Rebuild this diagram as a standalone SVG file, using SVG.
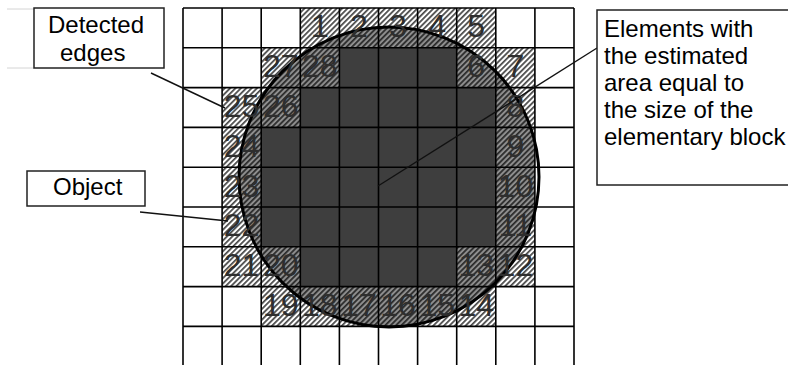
<svg xmlns="http://www.w3.org/2000/svg" width="788" height="365" viewBox="0 0 788 365">
<style>
.grid line{stroke:#000;stroke-width:1.6}
.num{font-family:"Liberation Sans",Arial,sans-serif;font-size:32px;fill:#2e2e2e;text-anchor:middle}
.lbl{font-family:"Liberation Sans",Arial,sans-serif;font-size:24px;fill:#000}
.box{fill:#fff;stroke:#222;stroke-width:1.5}
.lead{stroke:#111;stroke-width:1.4;fill:none}
.dark{fill:#3e3e3e}
.edge{fill:url(#hatch)}
</style>
<defs>
<pattern id="hatch" patternUnits="userSpaceOnUse" width="3.8" height="3.8" patternTransform="rotate(45)">
<line x1="0.9" y1="-1" x2="0.9" y2="5" stroke="#000" stroke-width="1.25"/>
</pattern>
<clipPath id="edgeclip">
<rect x="300.3" y="8" width="195.5" height="39.8"/>
<rect x="261.2" y="47.8" width="78.2" height="39.8"/>
<rect x="456.7" y="47.8" width="78.2" height="39.8"/>
<rect x="222.1" y="87.6" width="78.2" height="39.8"/>
<rect x="495.8" y="87.6" width="39.1" height="199"/>
<rect x="222.1" y="127.4" width="39.1" height="159.2"/>
<rect x="261.2" y="246.8" width="39.1" height="39.8"/>
<rect x="456.7" y="246.8" width="39.1" height="39.8"/>
<rect x="261.2" y="286.6" width="234.6" height="39.8"/>
</clipPath>
</defs>
<rect x="0" y="0" width="788" height="365" fill="#fff"/>

<g id="object-fill">
<circle cx="389" cy="177" r="150" fill="#8e8e8e" clip-path="url(#edgeclip)"/>
</g>

<g id="edge-cells">
<rect class="edge" x="300.3" y="8" width="195.5" height="39.8"/>
<rect class="edge" x="261.2" y="47.8" width="78.2" height="39.8"/>
<rect class="edge" x="456.7" y="47.8" width="78.2" height="39.8"/>
<rect class="edge" x="222.1" y="87.6" width="78.2" height="39.8"/>
<rect class="edge" x="495.8" y="87.6" width="39.1" height="199"/>
<rect class="edge" x="222.1" y="127.4" width="39.1" height="159.2"/>
<rect class="edge" x="261.2" y="246.8" width="39.1" height="39.8"/>
<rect class="edge" x="456.7" y="246.8" width="39.1" height="39.8"/>
<rect class="edge" x="261.2" y="286.6" width="234.6" height="39.8"/>
</g>

<g id="inner-cells">
<rect class="dark" x="339.4" y="47.8" width="117.3" height="39.8"/>
<rect class="dark" x="300.3" y="87.6" width="195.5" height="39.8"/>
<rect class="dark" x="261.2" y="127.4" width="234.6" height="119.4"/>
<rect class="dark" x="300.3" y="246.8" width="156.4" height="39.8"/>
</g>

<g id="grid" class="grid">
<line x1="183" y1="8" x2="183" y2="366"/>
<line x1="222.1" y1="8" x2="222.1" y2="366"/>
<line x1="261.2" y1="8" x2="261.2" y2="366"/>
<line x1="300.3" y1="8" x2="300.3" y2="366"/>
<line x1="339.4" y1="8" x2="339.4" y2="366"/>
<line x1="378.5" y1="8" x2="378.5" y2="366"/>
<line x1="417.6" y1="8" x2="417.6" y2="366"/>
<line x1="456.7" y1="8" x2="456.7" y2="366"/>
<line x1="495.8" y1="8" x2="495.8" y2="366"/>
<line x1="534.9" y1="8" x2="534.9" y2="366"/>
<line x1="574" y1="8" x2="574" y2="366"/>
<line x1="183" y1="8" x2="574" y2="8"/>
<line x1="183" y1="47.8" x2="574" y2="47.8"/>
<line x1="183" y1="87.6" x2="574" y2="87.6"/>
<line x1="183" y1="127.4" x2="574" y2="127.4"/>
<line x1="183" y1="167.2" x2="574" y2="167.2"/>
<line x1="183" y1="207" x2="574" y2="207"/>
<line x1="183" y1="246.8" x2="574" y2="246.8"/>
<line x1="183" y1="286.6" x2="574" y2="286.6"/>
<line x1="183" y1="326.4" x2="574" y2="326.4"/>
</g>

<g id="object-outline">
<circle cx="389" cy="177" r="150" fill="none" stroke="#000" stroke-width="3"/>
</g>

<g id="edge-numbers">
<text class="num" x="319.8" y="37.4">1</text>
<text class="num" x="359" y="37.4">2</text>
<text class="num" x="398" y="37.4">3</text>
<text class="num" x="437.2" y="37.4">4</text>
<text class="num" x="476.2" y="37.4">5</text>
<text class="num" x="476.2" y="77.2">6</text>
<text class="num" x="515.4" y="77.2">7</text>
<text class="num" x="515.4" y="117">8</text>
<text class="num" x="515.4" y="156.8">9</text>
<text class="num" x="515.4" y="196.6">10</text>
<text class="num" x="515.4" y="236.4">11</text>
<text class="num" x="515.4" y="276.2">12</text>
<text class="num" x="476.2" y="276.2">13</text>
<text class="num" x="476.2" y="316">14</text>
<text class="num" x="437.2" y="316">15</text>
<text class="num" x="398" y="316">16</text>
<text class="num" x="359" y="316">17</text>
<text class="num" x="319.8" y="316">18</text>
<text class="num" x="280.8" y="316">19</text>
<text class="num" x="280.8" y="276.2">20</text>
<text class="num" x="241.6" y="276.2">21</text>
<text class="num" x="241.6" y="236.4">22</text>
<text class="num" x="241.6" y="196.6">23</text>
<text class="num" x="241.6" y="156.8">24</text>
<text class="num" x="241.6" y="117">25</text>
<text class="num" x="280.8" y="117">26</text>
<text class="num" x="280.8" y="77.2">27</text>
<text class="num" x="319.8" y="77.2">28</text>
</g>

<g id="connectors">
<line class="lead" x1="151" y1="73" x2="225" y2="108"/>
<line class="lead" x1="140" y1="212" x2="228" y2="221"/>
<line class="lead" x1="597" y1="48" x2="378" y2="186"/>
</g>

<g id="label-detected-edges">
<line x1="7" y1="9" x2="34" y2="9" stroke="#d4d4d4" stroke-width="1"/>
<line x1="7" y1="68" x2="34" y2="68" stroke="#d4d4d4" stroke-width="1"/>
<rect class="box" x="34" y="8" width="130" height="60"/>
<text class="lbl" x="48" y="33">Detected</text>
<text class="lbl" x="60" y="61">edges</text>
</g>

<g id="label-object">
<rect class="box" x="27" y="171" width="118" height="35"/>
<text class="lbl" x="53" y="195">Object</text>
</g>

<g id="label-elements">
<rect class="box" x="597" y="10" width="200" height="175"/>
<text class="lbl" x="604" y="37">Elements with</text>
<text class="lbl" x="604" y="64">the estimated</text>
<text class="lbl" x="604" y="91">area equal to</text>
<text class="lbl" x="604" y="118">the size of the</text>
<text class="lbl" x="604" y="145">elementary block</text>
</g>
</svg>
